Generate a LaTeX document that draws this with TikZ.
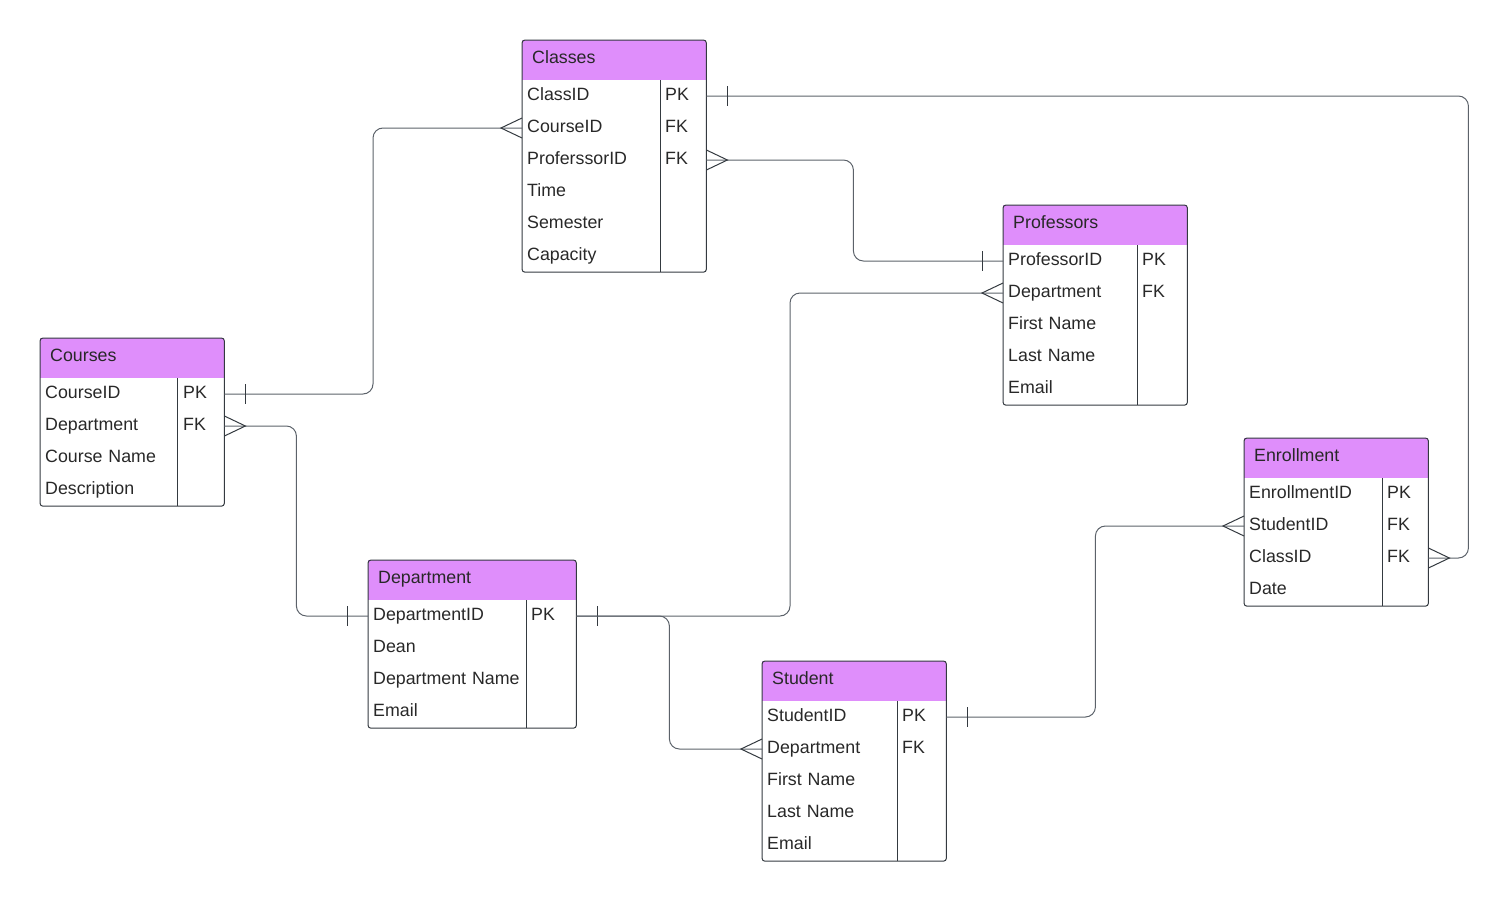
\documentclass[tikz,border=0pt]{standalone}
\usepackage{fontspec}
\setmainfont{Liberation Sans}
\usepackage{tikz}
\usetikzlibrary{positioning}
\definecolor{headc}{RGB}{223,142,251}
\definecolor{linec}{RGB}{52,58,64}
\definecolor{relc}{RGB}{92,98,106}
\definecolor{textc}{RGB}{40,40,40}
\tikzset{
  head/.style={anchor=north west, fill=headc, minimum height=40pt, inner xsep=10pt,
    inner ysep=0pt, text height=12pt, text depth=5.4pt,
    align=left, text=textc, font=\fontsize{17.8}{21}\selectfont},
  field/.style={anchor=west, minimum height=32pt, inner xsep=5pt, inner ysep=0pt,
    text height=13pt, text depth=3.6pt,
    align=left, text=textc, font=\fontsize{17.8}{21}\selectfont},
  key/.style={anchor=west, inner sep=0pt, text height=13pt, text depth=3.6pt,
    text=textc, font=\fontsize{17.8}{21}\selectfont},
  frame/.style={draw=linec, line width=1pt, rounded corners=3pt},
  rel/.style={draw=relc, line width=1pt, rounded corners=10pt},
  relend/.style={draw=linec, line width=1pt},
}

\begin{document}
\begin{tikzpicture}[x=1pt,y=-1pt]

  \useasboundingbox (0,0) rectangle (1509,902);

  \newcommand\onemark[2]{\draw[relend] ([xshift=#2]#1) ++(0,-10) -- ++(0,20);}
  \newcommand\manymark[2]{\draw[relend] ([yshift=10pt]#1) -- ([xshift=#2]#1) -- ([yshift=-10pt]#1);}

  %% Classes
  \node[head, text width=164pt] (classes) at (522,40) {Classes};
  \foreach \f [count=\i] in {ClassID, CourseID, ProferssorID, Time, Semester, Capacity}
    \node[field, text width=174pt] (classes-\i) at (522,64+32*\i) {\f};
  \foreach \k/\i in {PK/1, FK/2, FK/3}
    \node[key] (classes-k\i) at (665,64+32*\i) {\k};
  \draw[frame] (classes.north west) rectangle (classes-6.south east);
  \draw[frame] ([xshift=138pt]classes.south west) -- ([xshift=138pt]classes-6.south west);

  %% Professors
  \node[head, text width=164pt] (professors) at (1003,205) {Professors};
  \foreach \f [count=\i] in {ProfessorID, Department, First Name, Last Name, Email}
    \node[field, text width=174pt] (professors-\i) at (1003,229+32*\i) {\f};
  \foreach \k/\i in {PK/1, FK/2}
    \node[key] (professors-k\i) at (1142,229+32*\i) {\k};
  \draw[frame] (professors.north west) rectangle (professors-5.south east);
  \draw[frame] ([xshift=134pt]professors.south west) -- ([xshift=134pt]professors-5.south west);

  %% Courses
  \node[head, text width=164pt] (courses) at (40,338) {Courses};
  \foreach \f [count=\i] in {CourseID, Department, Course Name, Description}
    \node[field, text width=174pt] (courses-\i) at (40,362+32*\i) {\f};
  \foreach \k/\i in {PK/1, FK/2}
    \node[key] (courses-k\i) at (183,362+32*\i) {\k};
  \draw[frame] (courses.north west) rectangle (courses-4.south east);
  \draw[frame] ([xshift=137pt]courses.south west) -- ([xshift=137pt]courses-4.south west);

  %% Department
  \node[head, text width=188pt] (department) at (368,560) {Department};
  \foreach \f [count=\i] in {DepartmentID, Dean, Department Name, Email}
    \node[field, text width=198pt] (department-\i) at (368,584+32*\i) {\f};
  \node[key] (department-k1) at (531,616) {PK};
  \draw[frame] (department.north west) rectangle (department-4.south east);
  \draw[frame] ([xshift=158pt]department.south west) -- ([xshift=158pt]department-4.south west);

  %% Student
  \node[head, text width=164pt] (student) at (762,661) {Student};
  \foreach \f [count=\i] in {StudentID, Department, First Name, Last Name, Email}
    \node[field, text width=174pt] (student-\i) at (762,685+32*\i) {\f};
  \foreach \k/\i in {PK/1, FK/2}
    \node[key] (student-k\i) at (902,685+32*\i) {\k};
  \draw[frame] (student.north west) rectangle (student-5.south east);
  \draw[frame] ([xshift=135pt]student.south west) -- ([xshift=135pt]student-5.south west);

  %% Enrollment
  \node[head, text width=164pt] (enrollment) at (1244,438) {Enrollment};
  \foreach \f [count=\i] in {EnrollmentID, StudentID, ClassID, Date}
    \node[field, text width=174pt] (enrollment-\i) at (1244,462+32*\i) {\f};
  \foreach \k/\i in {PK/1, FK/2, FK/3}
    \node[key] (enrollment-k\i) at (1387,462+32*\i) {\k};
  \draw[frame] (enrollment.north west) rectangle (enrollment-4.south east);
  \draw[frame] ([xshift=138pt]enrollment.south west) -- ([xshift=138pt]enrollment-4.south west);

  %% relations
  \draw[rel] (classes-1.east) -- ++(762,0) |- (enrollment-3.east); %% class - enrollment
  \onemark{classes-1.east}{21pt}
  \manymark{enrollment-3.east}{21pt}

  \draw[rel] (classes-2.west) -- ++(-149,0) |- (courses-1.east); %% course - class
  \manymark{classes-2.west}{-21pt}
  \onemark{courses-1.east}{21pt}

  \draw[rel] (classes-3.east) -- ++(147,0) |- (professors-1.west); %% professor - class
  \manymark{classes-3.east}{21pt}
  \onemark{professors-1.west}{-21pt}

  \draw[rel] (professors-2.west) -- ++(-213,0) |- (department-1.east); %% department - professor
  \manymark{professors-2.west}{-21pt}
  \onemark{department-1.east}{21pt}

  \draw[rel] (courses-2.east) -- ++(72,0) |- (department-1.west); %% department - course
  \manymark{courses-2.east}{21pt}
  \onemark{department-1.west}{-21pt}

  \draw[rel] (department-1.east) -- ++(93,0) |- (student-2.west); %% department - student
  \manymark{student-2.west}{-21pt}

  \draw[rel] (student-1.east) -- ++(149,0) |- (enrollment-2.west); %% student - enrollment
  \onemark{student-1.east}{21pt}
  \manymark{enrollment-2.west}{-21pt}

\end{tikzpicture}
\end{document}
